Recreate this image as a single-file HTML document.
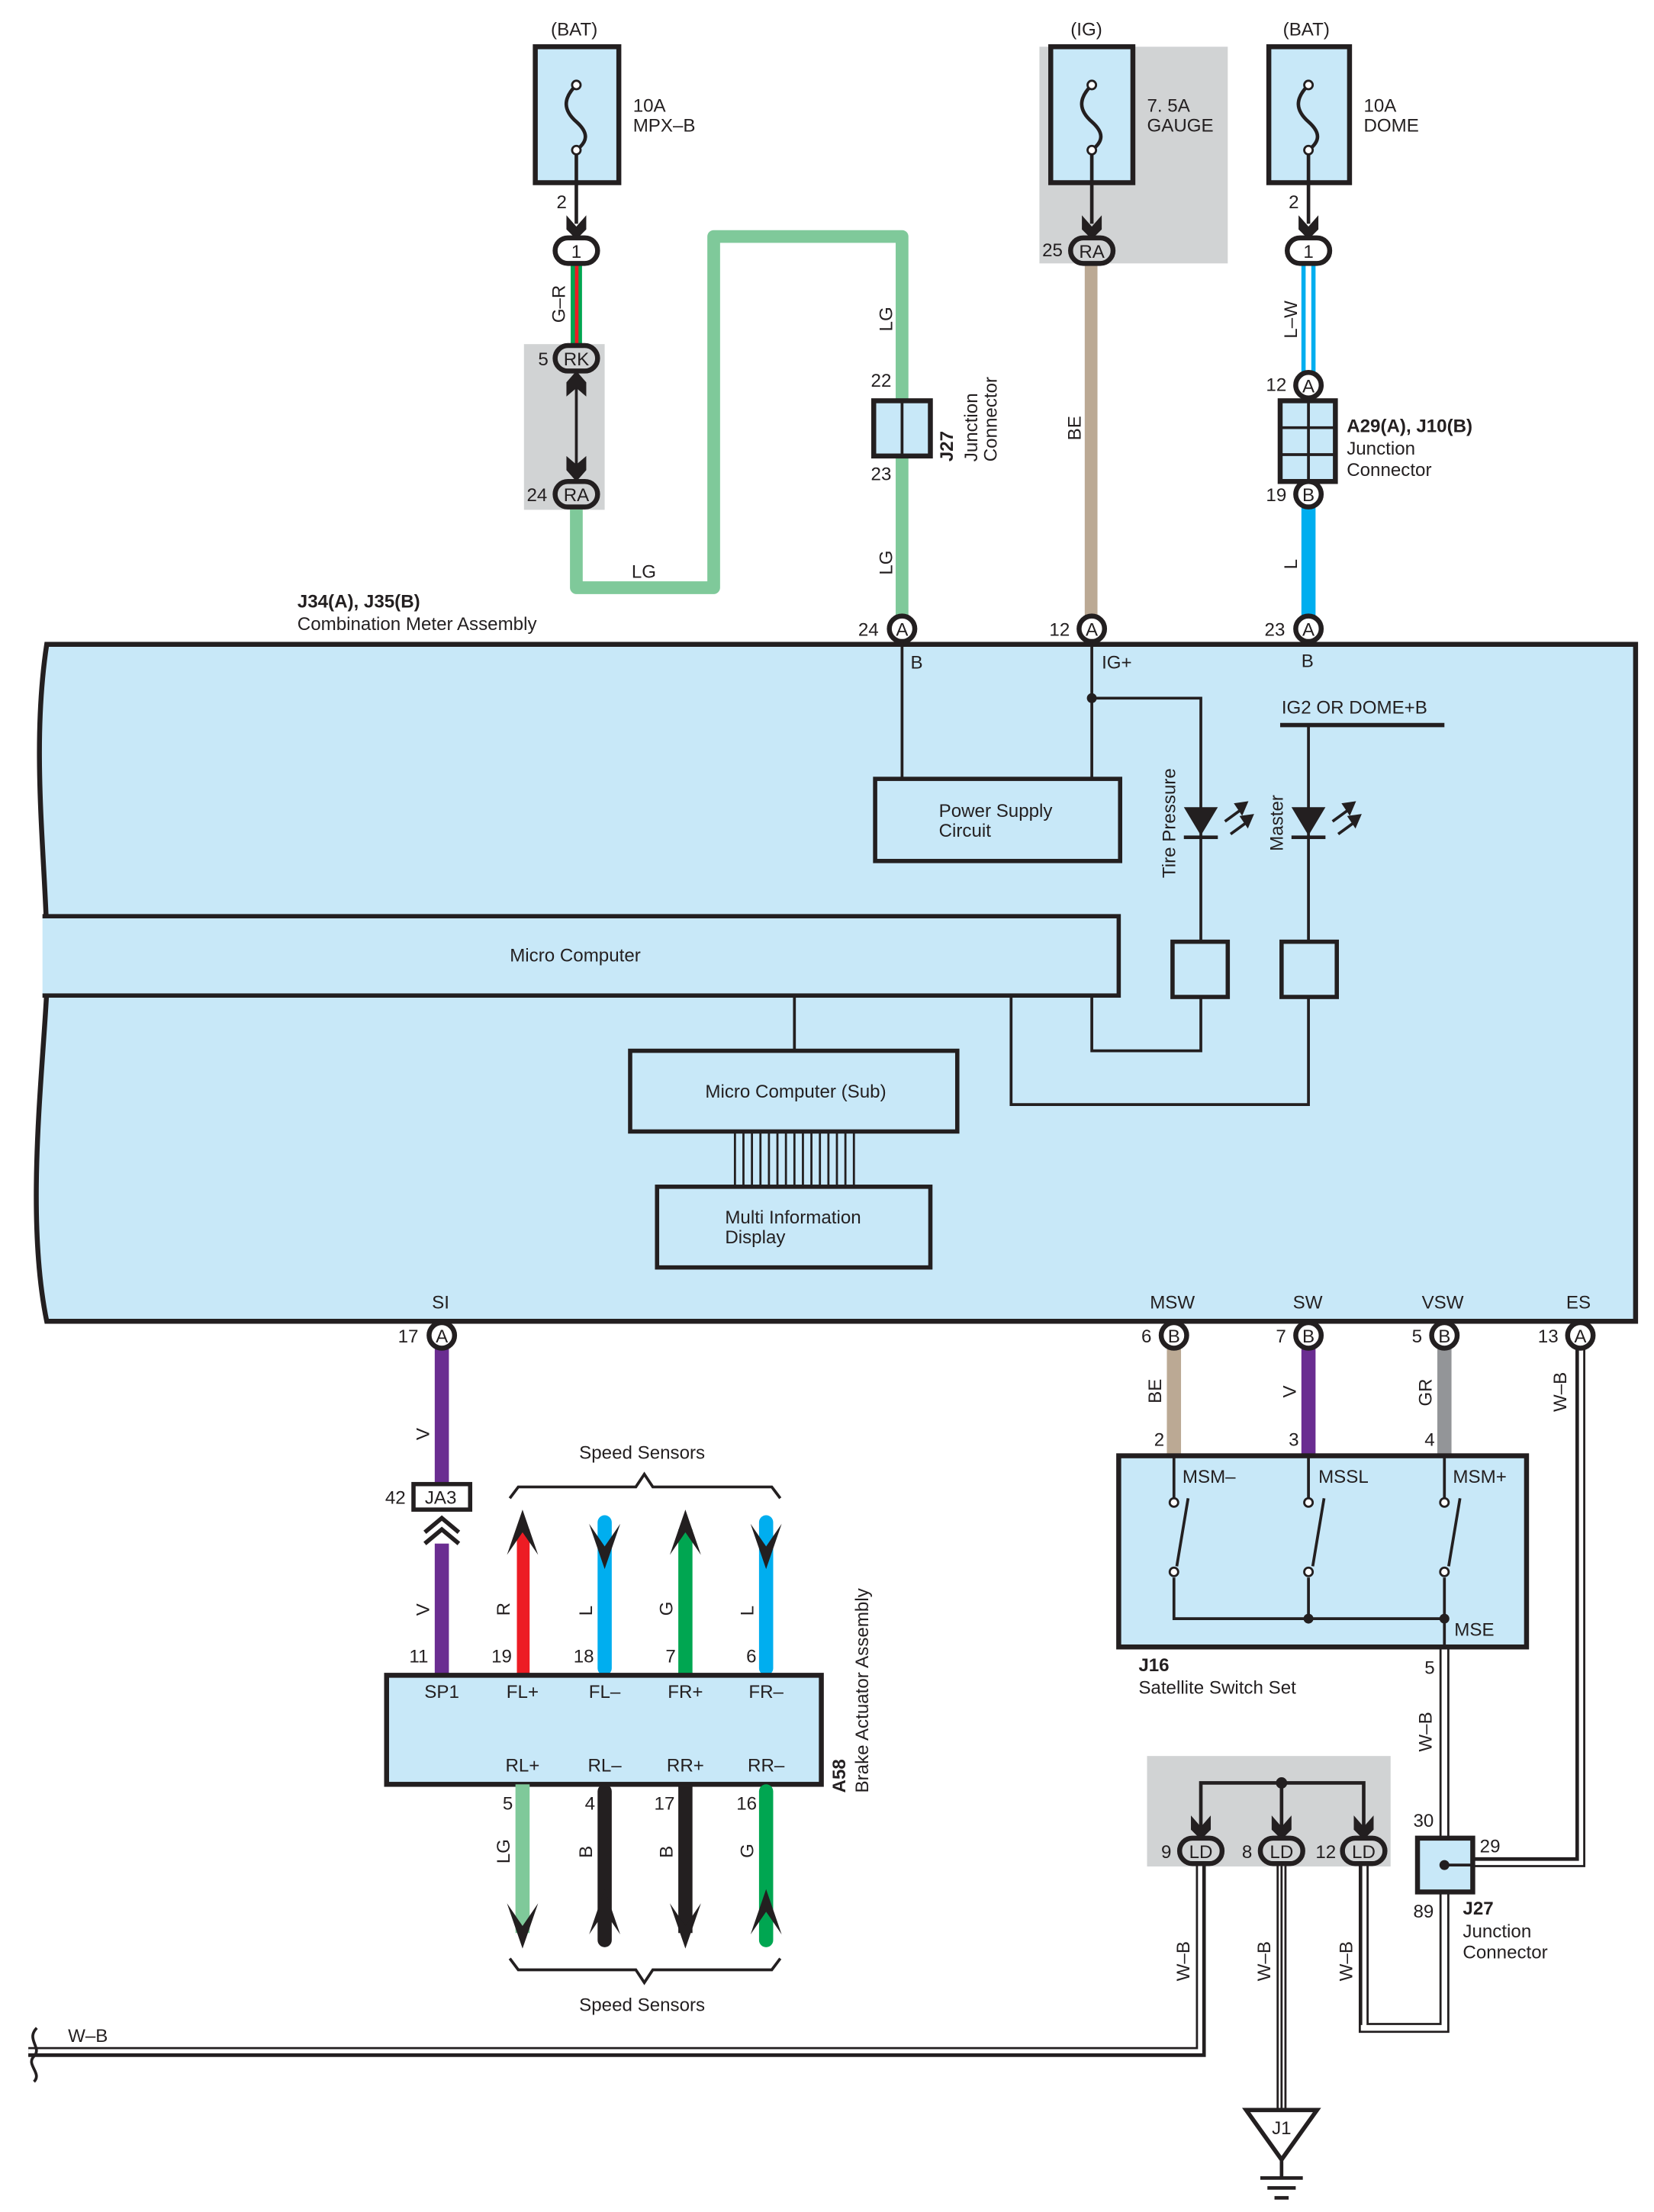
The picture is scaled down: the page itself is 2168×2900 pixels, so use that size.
<!DOCTYPE html>
<html><head><meta charset="utf-8"><style>html,body{margin:0;padding:0;background:#fff}svg{display:block}text{font-family:"Liberation Sans",sans-serif;font-size:13px;fill:#231f20}.b{font-weight:bold}</style></head><body>
<svg width="2168" height="2900" viewBox="0 0 1168 1562" preserveAspectRatio="none" xmlns="http://www.w3.org/2000/svg">
<g stroke-linecap="butt">
<!-- gray backgrounds -->
<rect x="734" y="33" width="133" height="153" fill="#d1d3d4"/>
<rect x="370" y="243" width="57" height="117" fill="#d1d3d4"/>
<rect x="810" y="1240" width="172" height="78" fill="#d1d3d4"/>

<!-- Fuses -->
<g fill="#c8e8f8" stroke="#231f20" stroke-width="3.5">
<rect x="378" y="33" width="59" height="96"/>
<rect x="742" y="33" width="58" height="96"/>
<rect x="896" y="33" width="57" height="96"/>
</g>
<g fill="none" stroke="#231f20" stroke-width="2.5">
<path d="M407 60 C397 70,398 78,407 86 C416 94,415 100,407 106"/>
<path d="M771 60 C761 70,762 78,771 86 C780 94,779 100,771 106"/>
<path d="M924 60 C914 70,915 78,924 86 C933 94,932 100,924 106"/>
<line x1="407" y1="106" x2="407" y2="158"/><line x1="771" y1="106" x2="771" y2="158"/><line x1="924" y1="106" x2="924" y2="158"/>
</g>
<g fill="#fff" stroke="#231f20" stroke-width="1.5"><circle cx="407" cy="60" r="3"/><circle cx="407" cy="106" r="3"/><circle cx="771" cy="60" r="3"/><circle cx="771" cy="106" r="3"/><circle cx="924" cy="60" r="3"/><circle cx="924" cy="106" r="3"/></g>
<g fill="#231f20">
<path d="M400 152 L407 160 L414 152 L414 162 L407 169 L400 162Z"/>
<path d="M764 152 L771 160 L778 152 L778 162 L771 169 L764 162Z"/>
<path d="M917 152 L924 160 L931 152 L931 162 L924 169 L917 162Z"/>
</g>
<text x="389" y="25">(BAT)</text><text x="756" y="25">(IG)</text><text x="906" y="25">(BAT)</text>
<text x="447" y="79">10A</text><text x="447" y="93">MPX–B</text>
<text x="810" y="79">7. 5A</text><text x="810" y="93">GAUGE</text>
<text x="963" y="79">10A</text><text x="963" y="93">DOME</text>
<text x="393" y="147">2</text><text x="910" y="147">2</text>

<!-- G-R wire -->
<rect x="403" y="186" width="8" height="58" fill="#00a651"/><rect x="406" y="186" width="2.5" height="58" fill="#ed1c24"/>
<text transform="translate(399,228) rotate(-90)">G–R</text>
<line x1="407" y1="262" x2="407" y2="340" stroke="#231f20" stroke-width="2"/>
<path d="M400 270 L407 262 L414 270 L414 280 L407 274 L400 280Z" fill="#231f20"/>
<path d="M400 322 L407 328 L414 322 L414 332 L407 340 L400 332Z" fill="#231f20"/>
<text x="380" y="258">5</text><text x="372" y="354">24</text>

<!-- LG wire -->
<path d="M407 358 L407 415 L504 415 L504 167 L637 167 L637 436" fill="none" stroke="#7fc99a" stroke-width="9" stroke-linejoin="round"/>
<text x="446" y="408">LG</text>
<text transform="translate(630,234) rotate(-90)">LG</text>
<text transform="translate(630,406) rotate(-90)">LG</text>
<rect x="617" y="283" width="40" height="39" fill="#c8e8f8" stroke="#231f20" stroke-width="3.5"/>
<line x1="637" y1="283" x2="637" y2="322" stroke="#231f20" stroke-width="2"/>
<text x="615" y="273">22</text><text x="615" y="339">23</text>
<text class="b" transform="translate(673,326) rotate(-90)">J27</text>
<text transform="translate(690,326) rotate(-90)">Junction</text>
<text transform="translate(704,326) rotate(-90)">Connector</text>

<!-- BE wire -->
<rect x="766" y="186" width="9" height="250" fill="#bba994"/>
<text transform="translate(763,311) rotate(-90)">BE</text>
<text x="736" y="181">25</text>

<!-- L-W wire -->
<rect x="919" y="186" width="3" height="78" fill="#00aeef"/><rect x="926" y="186" width="3" height="78" fill="#00aeef"/>
<text transform="translate(916,239) rotate(-90)">L–W</text>
<rect x="904" y="283" width="39" height="57" fill="#c8e8f8" stroke="#231f20" stroke-width="3.5"/>
<g stroke="#231f20" stroke-width="2"><line x1="924" y1="283" x2="924" y2="340"/><line x1="904" y1="302" x2="943" y2="302"/><line x1="904" y1="321" x2="943" y2="321"/></g>
<text x="894" y="276">12</text><text x="894" y="354">19</text>
<text class="b" x="951" y="305">A29(A), J10(B)</text><text x="951" y="321">Junction</text><text x="951" y="336">Connector</text>
<rect x="919" y="358" width="10" height="78" fill="#00aeef"/>
<text transform="translate(916,402) rotate(-90)">L</text>

<!-- connectors top -->
<g stroke="#231f20" stroke-width="3.5">
<rect x="392" y="168" width="30" height="18" rx="9" fill="#fff"/>
<rect x="909" y="168" width="30" height="18" rx="9" fill="#fff"/>
<rect x="756" y="168" width="30" height="18" rx="9" fill="#d1d3d4"/>
<rect x="392" y="244" width="30" height="18" rx="9" fill="#d1d3d4"/>
<rect x="392" y="340" width="30" height="18" rx="9" fill="#d1d3d4"/>
<circle cx="924" cy="272" r="9" fill="#fff"/><circle cx="924" cy="349" r="9" fill="#fff"/>
<circle cx="637" cy="444" r="9" fill="#fff"/><circle cx="771" cy="444" r="9" fill="#fff"/><circle cx="924" cy="444" r="9" fill="#fff"/>
</g>
<g text-anchor="middle">
<text x="407" y="182">1</text><text x="924" y="182">1</text><text x="771" y="182">RA</text><text x="407" y="258">RK</text><text x="407" y="354">RA</text>
<text x="924" y="277">A</text><text x="924" y="354">B</text><text x="637" y="449">A</text><text x="771" y="449">A</text><text x="924" y="449">A</text>
</g>
<text x="606" y="449">24</text><text x="741" y="449">12</text><text x="893" y="449">23</text>
<text class="b" x="210" y="429">J34(A), J35(B)</text><text x="210" y="445">Combination Meter Assembly</text>

<!-- main box -->
<path d="M33 455 L1155 455 L1155 933 L33 933 C18 860,30 760,33 700 C36 630,20 540,33 455Z" fill="#c8e8f8" stroke="#231f20" stroke-width="3.5"/>
<text x="643" y="472">B</text><text x="778" y="472">IG+</text><text x="919" y="471">B</text>
<g fill="none" stroke="#231f20" stroke-width="2">
<line x1="637" y1="453" x2="637" y2="550"/><line x1="771" y1="453" x2="771" y2="550"/>
<polyline points="771,493 848,493 848,665"/>
<polyline points="848,704 848,742 771,742 771,704"/>
<line x1="904" y1="512" x2="1020" y2="512" stroke-width="3"/>
<line x1="924" y1="512" x2="924" y2="665"/>
<polyline points="924,704 924,780 714,780 714,704"/>
<line x1="561" y1="704" x2="561" y2="742"/>
</g>
<circle cx="771" cy="493" r="3.5" fill="#231f20"/>
<g fill="#231f20">
<path d="M836 570 L860 570 L848 590Z"/><rect x="836" y="590" width="24" height="2.5"/>
<path d="M912 570 L936 570 L924 590Z"/><rect x="912" y="590" width="24" height="2.5"/>
</g>
<g stroke="#231f20" stroke-width="2" fill="#231f20">
<line x1="865" y1="580" x2="876" y2="572"/><path d="M873 568 L880 567 L877 574Z"/>
<line x1="869" y1="589" x2="880" y2="581"/><path d="M877 577 L884 576 L881 583Z"/>
<line x1="941" y1="580" x2="952" y2="572"/><path d="M949 568 L956 567 L953 574Z"/>
<line x1="945" y1="589" x2="956" y2="581"/><path d="M953 577 L960 576 L957 583Z"/>
</g>
<text x="905" y="504">IG2 OR DOME+B</text>
<text transform="translate(830,620) rotate(-90)">Tire Pressure</text>
<text transform="translate(906,601) rotate(-90)">Master</text>
<g fill="#c8e8f8" stroke="#231f20" stroke-width="3">
<rect x="618" y="550" width="173" height="58"/>
<rect x="828" y="665" width="39" height="39"/>
<rect x="905" y="665" width="39" height="39"/>
<path d="M30 647 L790 647 L790 703 L30 703"/>
<rect x="445" y="742" width="231" height="57"/>
<rect x="464" y="838" width="193" height="57"/>
</g>
<g stroke="#231f20" stroke-width="1.5">
<line x1="519" y1="799" x2="519" y2="838"/><line x1="525" y1="799" x2="525" y2="838"/><line x1="531" y1="799" x2="531" y2="838"/><line x1="537" y1="799" x2="537" y2="838"/><line x1="543" y1="799" x2="543" y2="838"/><line x1="549" y1="799" x2="549" y2="838"/><line x1="555" y1="799" x2="555" y2="838"/><line x1="561" y1="799" x2="561" y2="838"/><line x1="567" y1="799" x2="567" y2="838"/><line x1="573" y1="799" x2="573" y2="838"/><line x1="579" y1="799" x2="579" y2="838"/><line x1="585" y1="799" x2="585" y2="838"/><line x1="591" y1="799" x2="591" y2="838"/><line x1="597" y1="799" x2="597" y2="838"/><line x1="603" y1="799" x2="603" y2="838"/>
</g>
<text x="663" y="577">Power Supply</text><text x="663" y="591">Circuit</text>
<text x="360" y="679">Micro Computer</text>
<text x="498" y="775">Micro Computer (Sub)</text>
<text x="512" y="864">Multi Information</text><text x="512" y="878">Display</text>
<text x="305" y="924">SI</text><text x="812" y="924">MSW</text><text x="913" y="924">SW</text><text x="1004" y="924">VSW</text><text x="1106" y="924">ES</text>

<!-- lower wires -->
<rect x="307" y="952" width="10" height="96" fill="#6a2d91"/>
<rect x="307" y="1090" width="10" height="93" fill="#6a2d91"/>
<text transform="translate(303,1017) rotate(-90)">V</text><text transform="translate(303,1141) rotate(-90)">V</text>
<rect x="292" y="1048" width="40" height="18" fill="#fff" stroke="#231f20" stroke-width="3"/>
<text x="300" y="1062">JA3</text><text x="272" y="1062">42</text>
<path d="M300 1082 L312 1072 L324 1082 M300 1090 L312 1080 L324 1090" fill="none" stroke="#231f20" stroke-width="3"/>
<text x="289" y="1174">11</text>

<!-- sensor wires top -->
<rect x="365" y="1080" width="9" height="103" fill="#ed1c24"/>
<rect x="422" y="1070" width="10" height="113" fill="#00aeef" rx="5"/>
<rect x="479" y="1080" width="10" height="103" fill="#00a651"/>
<rect x="536" y="1070" width="10" height="113" fill="#00aeef" rx="5"/>
<g fill="#231f20">
<path d="M369 1066 L380 1098 L369 1082 L358 1098Z"/>
<path d="M484 1066 L495 1098 L484 1082 L473 1098Z"/>
<path d="M427 1108 L438 1076 L427 1092 L416 1076Z"/>
<path d="M541 1108 L552 1076 L541 1092 L530 1076Z"/>
</g>
<path d="M360 1058 L366 1050 L449 1050 L455 1041 L461 1050 L545 1050 L551 1058" fill="none" stroke="#231f20" stroke-width="2"/>
<text x="409" y="1030">Speed Sensors</text>
<text transform="translate(360,1141) rotate(-90)">R</text><text transform="translate(418,1141) rotate(-90)">L</text><text transform="translate(475,1141) rotate(-90)">G</text><text transform="translate(532,1141) rotate(-90)">L</text>
<text x="347" y="1174">19</text><text x="405" y="1174">18</text><text x="470" y="1174">7</text><text x="527" y="1174">6</text>

<rect x="273" y="1183" width="307" height="77" fill="#c8e8f8" stroke="#231f20" stroke-width="3.5"/>
<g text-anchor="middle"><text x="312" y="1199">SP1</text><text x="369" y="1199">FL+</text><text x="427" y="1199">FL–</text><text x="484" y="1199">FR+</text><text x="541" y="1199">FR–</text>
<text x="369" y="1251">RL+</text><text x="427" y="1251">RL–</text><text x="484" y="1251">RR+</text><text x="541" y="1251">RR–</text></g>
<text class="b" transform="translate(597,1266) rotate(-90)">A58</text>
<text transform="translate(613,1266) rotate(-90)">Brake Actuator Assembly</text>

<!-- sensor wires bottom -->
<rect x="364" y="1260" width="10" height="105" fill="#7fc99a"/>
<rect x="422" y="1260" width="10" height="115" fill="#231f20" rx="5"/>
<rect x="479" y="1260" width="10" height="105" fill="#231f20"/>
<rect x="536" y="1260" width="10" height="115" fill="#00a651" rx="5"/>
<g fill="#231f20">
<path d="M369 1376 L380 1344 L369 1360 L358 1344Z"/>
<path d="M484 1376 L495 1344 L484 1360 L473 1344Z"/>
<path d="M427 1334 L438 1366 L427 1350 L416 1366Z"/>
<path d="M541 1334 L552 1366 L541 1350 L530 1366Z"/>
</g>
<path d="M360 1383 L366 1391 L449 1391 L455 1400 L461 1391 L545 1391 L551 1383" fill="none" stroke="#231f20" stroke-width="2"/>
<text x="409" y="1420">Speed Sensors</text>
<text x="355" y="1278">5</text><text x="413" y="1278">4</text><text x="462" y="1278">17</text><text x="520" y="1278">16</text>
<text transform="translate(360,1316) rotate(-90)">LG</text><text transform="translate(418,1312) rotate(-90)">B</text><text transform="translate(475,1312) rotate(-90)">B</text><text transform="translate(532,1312) rotate(-90)">G</text>

<!-- satellite switch wires -->
<rect x="824" y="952" width="10" height="76" fill="#bba994"/>
<rect x="919" y="952" width="10" height="76" fill="#6a2d91"/>
<rect x="1015" y="952" width="10" height="76" fill="#939598"/>
<text transform="translate(820,991) rotate(-90)">BE</text><text transform="translate(915,987) rotate(-90)">V</text><text transform="translate(1011,993) rotate(-90)">GR</text>
<text x="815" y="1021">2</text><text x="910" y="1021">3</text><text x="1006" y="1021">4</text>

<!-- W-B wires (white with black) -->
<g fill="none" stroke-linejoin="miter">
<path d="M1116 952 L1116 1315 L1040 1315" stroke="#231f20" stroke-width="7"/>
<path d="M1116 952 L1116 1315 L1040 1315" stroke="#fff" stroke-width="4"/>
<path d="M1114 952 L1114 1313 L1040 1313" stroke="#231f20" stroke-width="2"/>
<path d="M1020 1163 L1020 1298" stroke="#231f20" stroke-width="7"/><path d="M1020 1163 L1020 1298" stroke="#fff" stroke-width="4"/>
<path d="M963 1316 L963 1432 L1020 1432 L1020 1336" stroke="#231f20" stroke-width="7"/>
<path d="M963 1316 L963 1432 L1020 1432 L1020 1336" stroke="#fff" stroke-width="4"/>
<path d="M961 1316 L961 1430" stroke="#231f20" stroke-width="2"/>
<path d="M848 1316 L848 1449 L20 1449" stroke="#231f20" stroke-width="7"/>
<path d="M848 1316 L848 1449 L20 1449" stroke="#fff" stroke-width="4"/>
<path d="M850 1316 L850 1451 L20 1451" stroke="#231f20" stroke-width="2"/>
<path d="M905 1316 L905 1490" stroke="#231f20" stroke-width="7"/><path d="M905 1316 L905 1490" stroke="#fff" stroke-width="4"/><path d="M905 1316 L905 1490" stroke="#231f20" stroke-width="1.5"/>
</g>
<path d="M26 1432 C18 1440,30 1446,24 1452 C18 1458,30 1464,24 1470" fill="none" stroke="#231f20" stroke-width="2"/>
<text x="48" y="1442">W–B</text>
<text transform="translate(1106,997) rotate(-90)">W–B</text>
<text transform="translate(1011,1237) rotate(-90)">W–B</text>
<text transform="translate(840,1399) rotate(-90)">W–B</text>
<text transform="translate(897,1399) rotate(-90)">W–B</text>
<text transform="translate(955,1399) rotate(-90)">W–B</text>

<!-- satellite switch box -->
<rect x="790" y="1028" width="288" height="135" fill="#c8e8f8" stroke="#231f20" stroke-width="3.5"/>
<g fill="none" stroke="#231f20" stroke-width="2">
<line x1="829" y1="1028" x2="829" y2="1058"/><line x1="924" y1="1028" x2="924" y2="1058"/><line x1="1020" y1="1028" x2="1020" y2="1058"/>
<line x1="839" y1="1058" x2="831" y2="1106"/><line x1="935" y1="1058" x2="927" y2="1106"/><line x1="1031" y1="1058" x2="1023" y2="1106"/>
<polyline points="829,1114 829,1143 1020,1143 1020,1114"/><line x1="924" y1="1114" x2="924" y2="1143"/>
<line x1="1020" y1="1143" x2="1020" y2="1163"/>
</g>
<g fill="#fff" stroke="#231f20" stroke-width="1.5"><circle cx="829" cy="1061" r="3"/><circle cx="829" cy="1110" r="3"/><circle cx="924" cy="1061" r="3"/><circle cx="924" cy="1110" r="3"/><circle cx="1020" cy="1061" r="3"/><circle cx="1020" cy="1110" r="3"/></g>
<circle cx="924" cy="1143" r="3.5" fill="#231f20"/><circle cx="1020" cy="1143" r="3.5" fill="#231f20"/>
<text x="835" y="1047">MSM–</text><text x="931" y="1047">MSSL</text><text x="1026" y="1047">MSM+</text><text x="1027" y="1155">MSE</text>
<text class="b" x="804" y="1180">J16</text><text x="804" y="1196">Satellite Switch Set</text>
<text x="1006" y="1182">5</text>

<!-- J27 bottom -->
<rect x="1001" y="1298" width="39" height="38" fill="#c8e8f8" stroke="#231f20" stroke-width="3.5"/>
<circle cx="1020" cy="1317" r="3.5" fill="#231f20"/><line x1="1020" y1="1317" x2="1040" y2="1317" stroke="#231f20" stroke-width="2"/>
<text x="998" y="1290">30</text><text x="1045" y="1308">29</text><text x="998" y="1354">89</text>
<text class="b" x="1033" y="1352">J27</text><text x="1033" y="1368">Junction</text><text x="1033" y="1383">Connector</text>

<!-- LD branch -->
<g fill="none" stroke="#231f20" stroke-width="2.5"><polyline points="848,1290 848,1259 963,1259 963,1290"/><line x1="905" y1="1259" x2="905" y2="1290"/></g>
<circle cx="905" cy="1259" r="4" fill="#231f20"/>
<g fill="#231f20">
<path d="M841 1282 L848 1290 L855 1282 L855 1292 L848 1299 L841 1292Z"/>
<path d="M898 1282 L905 1290 L912 1282 L912 1292 L905 1299 L898 1292Z"/>
<path d="M956 1282 L963 1290 L970 1282 L970 1292 L963 1299 L956 1292Z"/>
</g>
<g stroke="#231f20" stroke-width="3.5" fill="#d1d3d4">
<rect x="833" y="1298" width="30" height="18" rx="9"/><rect x="890" y="1298" width="30" height="18" rx="9"/><rect x="948" y="1298" width="30" height="18" rx="9"/>
</g>
<g text-anchor="middle"><text x="848" y="1312">LD</text><text x="905" y="1312">LD</text><text x="963" y="1312">LD</text></g>
<text x="820" y="1312">9</text><text x="877" y="1312">8</text><text x="929" y="1312">12</text>

<!-- ground -->
<path d="M880 1490 L930 1490 L905 1525Z" fill="#fff" stroke="#231f20" stroke-width="3"/>
<text x="905" y="1507" text-anchor="middle">J1</text>
<g stroke="#231f20" stroke-width="2.5"><line x1="905" y1="1525" x2="905" y2="1538"/><line x1="890" y1="1538" x2="920" y2="1538"/><line x1="895" y1="1545" x2="915" y2="1545"/><line x1="900" y1="1552" x2="910" y2="1552"/></g>

<!-- lower connectors -->
<g stroke="#231f20" stroke-width="3.5" fill="#fff">
<circle cx="312" cy="943" r="9"/><circle cx="829" cy="943" r="9"/><circle cx="924" cy="943" r="9"/><circle cx="1020" cy="943" r="9"/><circle cx="1116" cy="943" r="9"/>
</g>
<g text-anchor="middle"><text x="312" y="948">A</text><text x="829" y="948">B</text><text x="924" y="948">B</text><text x="1020" y="948">B</text><text x="1116" y="948">A</text></g>
<text x="281" y="948">17</text><text x="806" y="948">6</text><text x="901" y="948">7</text><text x="997" y="948">5</text><text x="1086" y="948">13</text>
</g>
</svg>
</body></html>
